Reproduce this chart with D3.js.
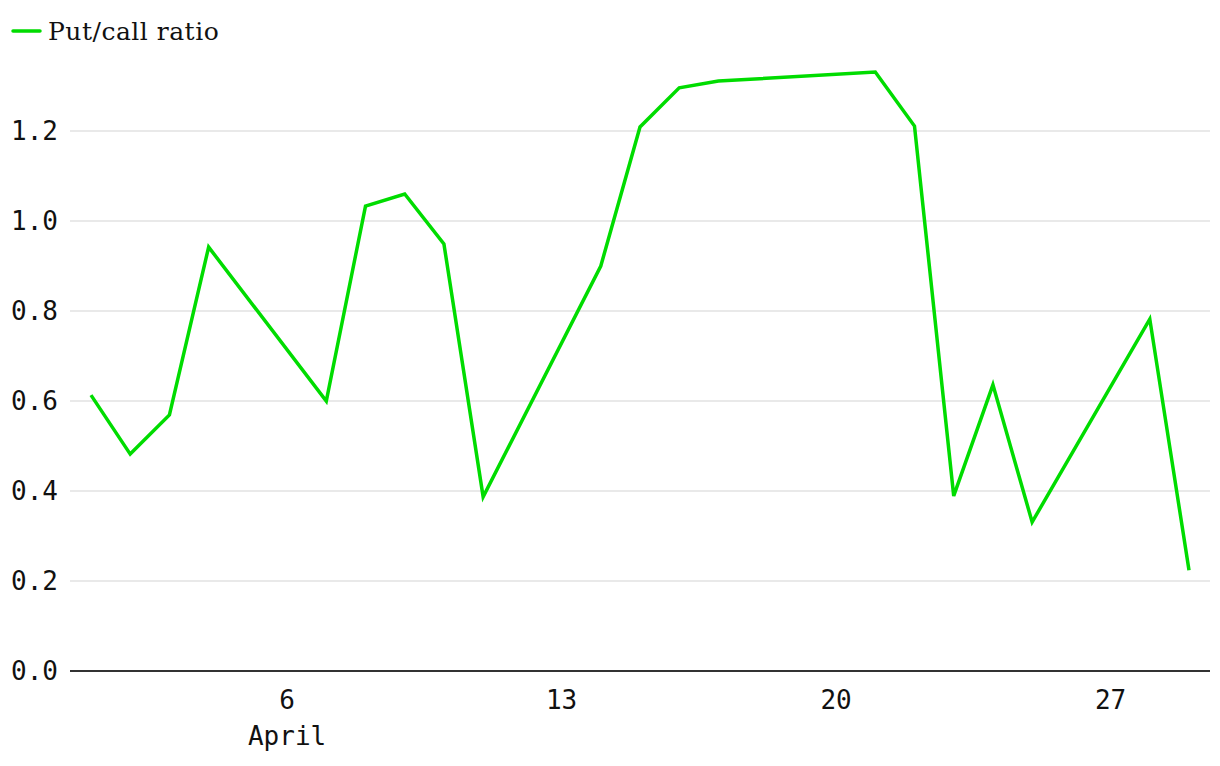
<!DOCTYPE html>
<html><head><meta charset="utf-8">
<script src="https://cdn.jsdelivr.net/npm/d3@7"></script>
<style>
body{margin:0;background:#fff;}
svg{display:block;}
</style></head>
<body><svg id="c" width="1220" height="766"></svg>
<script>
const dates = ["2025-04-01","2025-04-02","2025-04-03","2025-04-04","2025-04-07","2025-04-08","2025-04-09","2025-04-10","2025-04-11","2025-04-14","2025-04-15","2025-04-16","2025-04-17","2025-04-21","2025-04-22","2025-04-23","2025-04-24","2025-04-25","2025-04-28","2025-04-29"];
const ratios = [0.613,0.482,0.569,0.942,0.600,1.033,1.060,0.949,0.387,0.900,1.209,1.296,1.311,1.331,1.211,0.389,0.636,0.331,0.782,0.224];
const yTicks = [0.0,0.2,0.4,0.6,0.8,1.0,1.2];
const xTickDays = ["2025-04-06","2025-04-13","2025-04-20","2025-04-27"];
const seriesName = "Put/call ratio";

const parse = d3.utcParse("%Y-%m-%d");
const data = dates.map((d,i)=>({date:parse(d), v:ratios[i]}));
const svg = d3.select("#c");
const color = "#00dc00";
const monoFont = "'DejaVu Sans Mono', monospace";
const fs = 26;

const x = d3.scaleUtc().domain([parse("2025-04-01"), parse("2025-04-29")]).range([91,1189]);
const y = d3.scaleLinear().domain([0,1]).range([671,221]);
const left = 70, right = 1210;

// grid
svg.append("g").selectAll("line").data(yTicks.filter(t=>t>0)).join("line")
  .attr("x1",left).attr("x2",right).attr("y1",d=>y(d)).attr("y2",d=>y(d))
  .attr("stroke","#e2e2e2").attr("stroke-width",1.5);

// y labels
svg.append("g").selectAll("text").data(yTicks).join("text")
  .attr("x",58).attr("y",d=>y(d)).attr("dy","0.35em").attr("text-anchor","end")
  .attr("font-family",monoFont).attr("font-size",fs).attr("fill","#111")
  .text(d=>d3.format(".1f")(d));

// x axis line
svg.append("line").attr("x1",left).attr("x2",right).attr("y1",y(0)).attr("y2",y(0))
  .attr("stroke","#333").attr("stroke-width",2);

// x labels
const xt = svg.append("g");
xTickDays.forEach((d,i)=>{
  const dt = parse(d);
  xt.append("text").attr("x",x(dt)).attr("y",709).attr("text-anchor","middle")
    .attr("font-family",monoFont).attr("font-size",fs).attr("fill","#111")
    .text(d3.utcFormat("%-d")(dt));
  if(i===0) xt.append("text").attr("x",x(dt)).attr("y",745).attr("text-anchor","middle")
    .attr("font-family",monoFont).attr("font-size",fs).attr("fill","#111")
    .text(d3.utcFormat("%B")(dt));
});

// line
const line = d3.line().x(d=>x(d.date)).y(d=>y(d.v));
svg.append("path").datum(data).attr("d",line).attr("fill","none")
  .attr("stroke",color).attr("stroke-width",3.5).attr("stroke-linejoin","miter");

// legend
svg.append("line").attr("x1",13).attr("x2",40).attr("y1",31).attr("y2",31)
  .attr("stroke",color).attr("stroke-width",3.5).attr("stroke-linecap","round");
svg.append("text").attr("x",48).attr("y",31).attr("dy","0.35em")
  .attr("font-family","'DejaVu Serif', serif").attr("font-size",25).attr("letter-spacing",0.5).attr("fill","#111")
  .text(seriesName);
</script></body></html>
